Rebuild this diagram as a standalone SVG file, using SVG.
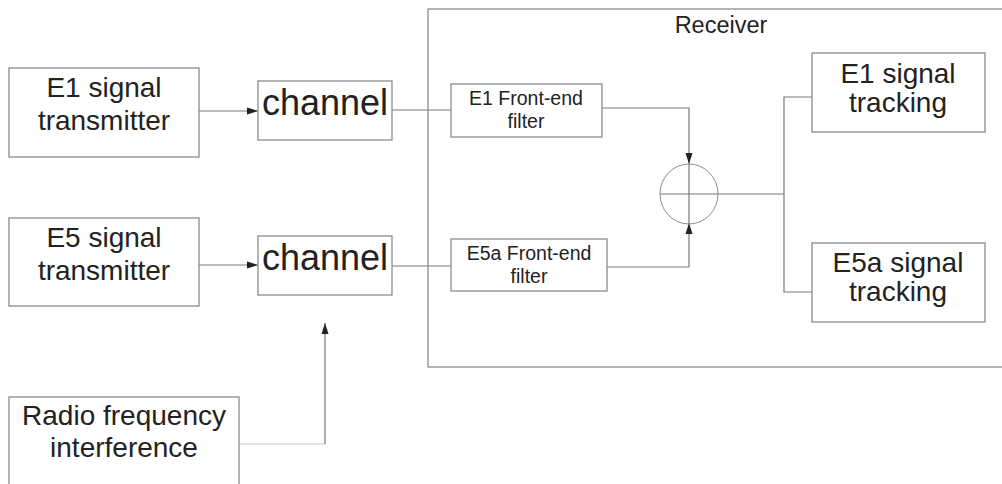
<svg xmlns="http://www.w3.org/2000/svg" width="1002" height="484" viewBox="0 0 1002 484">
<defs>
<style>
.box{fill:#fff;stroke:#8c8c8c;stroke-width:1.3}
.ln{fill:none;stroke:#7a7a7a;stroke-width:1.2}
.lt{fill:none;stroke:#c8c8c8;stroke-width:1.2}
.t{font-family:"Liberation Sans",Arial,sans-serif;fill:#222;text-anchor:middle}
.t28{font-size:28px}
.t20{font-size:19.5px}
.t36{font-size:36px}
.t24{font-size:23.5px}
</style>
<marker id="ah" markerWidth="11" markerHeight="8" refX="11" refY="4" orient="auto" markerUnits="userSpaceOnUse">
<path d="M0,0.5 L11,4 L0,7.5 Z" fill="#222"/>
</marker>
</defs>
<rect width="1002" height="484" fill="#fff"/>
<g id="receiver">
<rect class="box" x="428" y="9" width="600" height="358"/>
<text class="t t24" x="721" y="33">Receiver</text>
</g>
<g id="connectors">
<line class="ln" x1="199" y1="111" x2="258" y2="111" marker-end="url(#ah)"/>
<line class="ln" x1="199" y1="265" x2="258" y2="265" marker-end="url(#ah)"/>
<line class="ln" x1="392" y1="110" x2="451" y2="110"/>
<line class="ln" x1="392" y1="266" x2="451" y2="266"/>
<polyline class="ln" points="602,108 689,108 689,164" marker-end="url(#ah)"/>
<polyline class="ln" points="607,267 689,267 689,223" marker-end="url(#ah)"/>
<line class="ln" x1="718" y1="194" x2="784" y2="194"/>
<polyline class="ln" points="812,97 784,97 784,292 812,292"/>
<polyline class="lt" points="239,444 325,444"/>
<line class="ln" x1="325" y1="444" x2="325" y2="323" stroke="#9a9a9a" marker-end="url(#ah)"/>
</g>
<g id="sum">
<ellipse cx="689" cy="194" rx="29" ry="30" fill="none" stroke="#8c8c8c" stroke-width="1"/>
<line class="ln" x1="660" y1="194" x2="718" y2="194"/>
<line class="ln" x1="689" y1="164" x2="689" y2="224"/>
</g>
<g id="e1tx">
<rect class="box" x="9" y="68" width="190" height="89"/>
<text class="t t28" x="104" y="97">E1 signal</text>
<text class="t t28" x="104" y="130">transmitter</text>
</g>
<g id="e5tx">
<rect class="box" x="9" y="218" width="190" height="88"/>
<text class="t t28" x="104" y="247">E5 signal</text>
<text class="t t28" x="104" y="280">transmitter</text>
</g>
<g id="ch1">
<rect class="box" x="258" y="81" width="134" height="59"/>
<text class="t t36" x="325" y="115">channel</text>
</g>
<g id="ch2">
<rect class="box" x="258" y="236" width="134" height="59"/>
<text class="t t36" x="325" y="270">channel</text>
</g>
<g id="rfi">
<rect class="box" x="9" y="397" width="230" height="100"/>
<text class="t t28" x="124" y="425">Radio frequency</text>
<text class="t t28" x="124" y="457">interference</text>
</g>
<g id="f1">
<rect class="box" x="451" y="84" width="151" height="53"/>
<text class="t t20" x="526" y="105">E1 Front-end</text>
<text class="t t20" x="526" y="128">filter</text>
</g>
<g id="f5">
<rect class="box" x="451" y="239" width="156" height="52"/>
<text class="t t20" x="529" y="260">E5a Front-end</text>
<text class="t t20" x="529" y="283">filter</text>
</g>
<g id="tr1">
<rect class="box" x="812" y="53" width="173" height="79"/>
<text class="t t28" x="898" y="83">E1 signal</text>
<text class="t t28" x="898" y="112">tracking</text>
</g>
<g id="tr5">
<rect class="box" x="812" y="243" width="173" height="79"/>
<text class="t t28" x="898" y="272">E5a signal</text>
<text class="t t28" x="898" y="301">tracking</text>
</g>
</svg>
